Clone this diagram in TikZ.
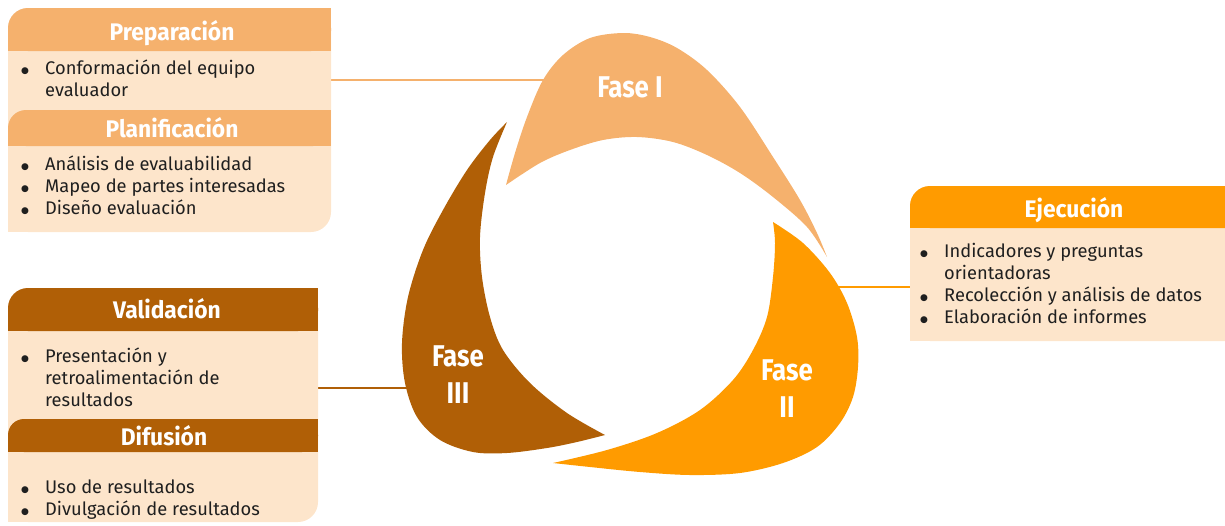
\documentclass[tikz,border=0pt]{standalone}
\usepackage{fontspec}
\setmainfont{Fira Sans}
\newfontfamily\headfont[FakeStretch=0.95]{Fira Sans}
\newfontfamily\fasefont[FakeStretch=0.86]{Fira Sans}
\newfontfamily\symfont{DejaVu Sans}
\definecolor{lorange}{RGB}{245,177,109}
\definecolor{borange}{RGB}{255,155,0}
\definecolor{brown}{RGB}{176,95,6}
\definecolor{peach}{RGB}{253,229,203}
\newcommand{\bul}{\makebox[24pt][l]{\raisebox{1pt}{\symfont\fontsize{9}{9}\selectfont ●}}}
\tikzset{
  headtxt/.style={anchor=base,text=white,inner sep=0pt,font=\headfont\bfseries\fontsize{24}{28}\selectfont},
  fasetxt/.style={anchor=base,text=white,inner sep=0pt,align=center,font=\fasefont\bfseries\fontsize{30}{37}\selectfont},
  bodytxt/.style={anchor=base west,inner sep=0pt,text=black!88,font=\fontsize{18.3}{22}\selectfont},
  conn/.style={line width=2pt},
  blade/.style={smooth,tension=0.55},
}
\begin{document}
\begin{tikzpicture}[x=1pt,y=-1pt]
\useasboundingbox (0,0) rectangle (1225,525);

% ---------- connectors ----------
\coordinate (c1a) at (331,80);  \coordinate (c1b) at (550,80);
\coordinate (c2a) at (835,287); \coordinate (c2b) at (910,287);
\coordinate (c3a) at (318,388); \coordinate (c3b) at (412,388);
\draw[conn,lorange] (c1a) -- (c1b);
\draw[conn,borange] (c2a) -- (c2b);
\draw[conn,brown] (c3a) -- (c3b);

% ---------- Fase I ----------
\fill[lorange] plot[blade] coordinates {(506,185) (515,153) (527,117) (543,80) (563,55) (590,38) (623,33) (650,37) (677,48) (707,70) (740,107) (773,157) (800,200) (817,233) (827,257)}
  -- plot[blade] coordinates {(827,257) (807,227) (773,197) (740,173) (707,155) (673,142) (637,137) (603,140) (570,150) (540,163) (506,185)} -- cycle;
% ---------- Fase II ----------
\fill[borange] plot[blade] coordinates {(773,222) (803,243) (830,273) (847,303) (857,337) (858,367) (853,397) (840,423) (817,447) (783,463) (740,473) (690,475) (640,472) (590,467) (553,463)}
  -- plot[blade] coordinates {(553,463) (607,450) (657,433) (700,410) (733,380) (753,350) (767,317) (773,277) (775,243) (773,222)} -- cycle;
% ---------- Fase III ----------
\fill[brown] plot[blade] coordinates {(507,122) (490,140) (467,170) (443,210) (423,250) (408,297) (402,343) (405,383) (417,417) (440,440) (473,452) (507,453) (547,448) (577,442) (605,435)}
  -- plot[blade] coordinates {(605,435) (567,413) (530,383) (503,350) (490,317) (482,277) (480,237) (485,193) (493,157) (507,122)} -- cycle;

\node[fasetxt] (f1) at (630,97) {Fase I};
\node[fasetxt] (f3) at (458,403) {Fase\\III};
\node[fasetxt] (f2) at (787,417) {Fase\\II};

% ---------- top-left box ----------
\fill[peach,rounded corners=20pt] (8,8) rectangle (331,232);
\fill[peach] (300,8) rectangle (331,40);
\fill[peach] (8,200) rectangle (40,232);
\fill[lorange,rounded corners=20pt] (8,8) rectangle (331,51);
\fill[lorange] (30,8) rectangle (331,51);
\fill[lorange] (8,30) rectangle (331,51);
\fill[lorange,rounded corners=18pt] (8,110) rectangle (331,146);
\fill[lorange] (30,110) rectangle (331,146);
\fill[lorange] (8,128) rectangle (331,146);
\node[headtxt] (prep) at (172,40) {Preparación};
\node[headtxt] (plan) at (172,137) {Planificación};
\node[bodytxt] (prepl) at (21,74) {\begin{tabular}[t]{@{}l@{}l@{}}\bul & Conformación del equipo\\ & evaluador\end{tabular}};
\node[bodytxt] (planl) at (21,170) {\begin{tabular}[t]{@{}l@{}l@{}}\bul & Análisis de evaluabilidad\\ \bul & Mapeo de partes interesadas\\ \bul & Diseño evaluación\end{tabular}};

% ---------- bottom-left box ----------
\fill[peach,rounded corners=20pt] (8,288) rectangle (318,522);
\fill[peach] (290,288) rectangle (318,320);
\fill[peach] (8,490) rectangle (40,522);
\fill[brown,rounded corners=20pt] (8,288) rectangle (318,331);
\fill[brown] (30,288) rectangle (318,331);
\fill[brown] (8,310) rectangle (318,331);
\fill[brown,rounded corners=16pt] (8,419) rectangle (318,452);
\fill[brown] (30,419) rectangle (318,452);
\fill[brown] (8,436) rectangle (318,452);
\node[headtxt] (vali) at (167,318) {Validación};
\node[headtxt] (difu) at (164,445) {Difusión};
\node[bodytxt] (valil) at (21,362) {\begin{tabular}[t]{@{}l@{}l@{}}\bul & Presentación y\\ & retroalimentación de\\ & resultados\end{tabular}};
\node[bodytxt] (difl) at (21,493) {\begin{tabular}[t]{@{}l@{}l@{}}\bul & Uso de resultados\\ \bul & Divulgación de resultados\end{tabular}};

% ---------- right box ----------
\fill[peach,rounded corners=20pt] (910,186) rectangle (1245,341);
\fill[peach] (910,310) rectangle (940,341);
\fill[borange,rounded corners=20pt] (910,186) rectangle (1245,228);
\fill[borange] (932,186) rectangle (1245,228);
\fill[borange] (910,208) rectangle (1245,228);
\node[headtxt] (ejec) at (1074,217) {Ejecución};
\node[bodytxt] (ejecl) at (920,257) {\begin{tabular}[t]{@{}l@{}l@{}}\bul & Indicadores y preguntas\\ & orientadoras\\ \bul & Recolección y análisis de datos\\ \bul & Elaboración de informes\end{tabular}};
\end{tikzpicture}
\end{document}
